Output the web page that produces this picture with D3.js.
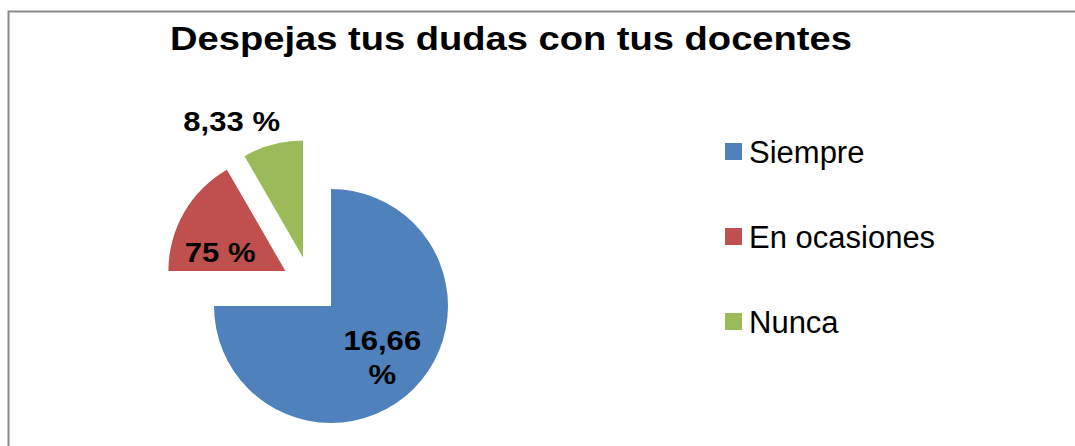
<!DOCTYPE html>
<html>
<head>
<meta charset="utf-8">
<script src="https://cdn.jsdelivr.net/npm/d3@7"></script>
<style>
  body { margin: 0; background: #fff; }
  svg { display: block; }
</style>
</head>
<body>
<svg class="vis1" width="1075" height="446"></svg>
<script>
// Datos
var categories = ["Siempre", "En ocasiones", "Nunca"];
var values = [75, 16.66, 8.33];
// etiquetas tal como aparecen en el grafico original
var labelLines = [["16,66", "%"], ["75 %"], ["8,33 %"]];
var colors = ["#4F81BD", "#C0504D", "#9BBB59"];

var svg1 = d3.select(".vis1");

// marco del grafico
svg1.append("rect")
    .attr("x", 8.5)
    .attr("y", 11.5)
    .attr("width", 1200)
    .attr("height", 600)
    .attr("fill", "none")
    .attr("stroke", "#8a8a8a")
    .attr("stroke-width", 2);

// titulo (el original es algo mas ancho que Arial, se estira en x)
var title = svg1.append("text")
    .attr("x", 0)
    .attr("y", 0)
    .text("Despejas tus dudas con tus docentes")
    .attr("font-family", "Liberation Sans, Arial, sans-serif")
    .attr("font-weight", "bold")
    .attr("font-size", "34px")
    .attr("fill", "#000");
var tw = title.node().getComputedTextLength();
title.attr("transform", "translate(170,50) scale(" + (682 / tw) + ",1)");

var cx = 310.5, cy = 285.5;
var radius = 117;
var explode = 29;

var color = d3.scaleOrdinal().domain(categories).range(colors);

var pie = d3.pie()
    .sort(null)
    .value(function (d) { return d.value; });

var data = categories.map(function (c, i) {
    return { name: c, value: values[i], lines: labelLines[i] };
});
var arcs = pie(data);

var arc = d3.arc()
    .innerRadius(0)
    .outerRadius(radius);

function mid(d) { return (d.startAngle + d.endAngle) / 2; }

var g = svg1.selectAll(".arc")
    .data(arcs)
    .enter().append("g")
    .attr("class", "arc")
    .attr("transform", function (d) {
        var a = mid(d);
        return "translate(" + (cx + Math.sin(a) * explode) + "," + (cy - Math.cos(a) * explode) + ")";
    });

g.append("path")
    .attr("d", arc)
    .style("fill", function (d) { return color(d.data.name); });

// posicion de etiquetas (radio relativo, giro en grados)
var labelPos = [
    { r: 0.62, rot: 0 },
    { r: 0.58, rot: -14 },
    { r: 1.32, rot: -12.5 }
];
var lineH = 34;
var stretch = 1.11;

g.each(function (d, i) {
    var p = labelPos[i];
    var a = mid(d) + p.rot * Math.PI / 180;
    var lx = Math.sin(a) * radius * p.r;
    var ly = -Math.cos(a) * radius * p.r;
    var n = d.data.lines.length;
    var t = d3.select(this).append("text")
        .attr("text-anchor", "middle")
        .attr("transform", "translate(" + lx + "," + ly + ") scale(" + stretch + ",1)")
        .attr("font-family", "Liberation Sans, Arial, sans-serif")
        .attr("font-weight", "bold")
        .attr("font-size", "28px")
        .attr("fill", "#000");
    d.data.lines.forEach(function (line, j) {
        t.append("tspan")
            .attr("x", 0)
            .attr("y", 10 + (j - (n - 1) / 2) * lineH)
            .text(line);
    });
});

// Leyenda
var legendY = d3.scalePoint()
    .domain(categories)
    .range([163, 333]);

var legend = svg1.append("g").attr("class", "legend");

legend.selectAll("rect")
    .data(categories).enter()
    .append("rect")
    .attr("x", 725)
    .attr("y", function (d) { return legendY(d) - 20; })
    .attr("width", 17)
    .attr("height", 17)
    .style("fill", function (d) { return color(d); });

legend.selectAll("text")
    .data(categories).enter()
    .append("text")
    .attr("x", 749)
    .attr("y", function (d) { return legendY(d); })
    .text(function (d) { return d; })
    .attr("font-family", "Liberation Sans, Arial, sans-serif")
    .attr("font-size", "31px")
    .attr("fill", "#000");
</script>
</body>
</html>
